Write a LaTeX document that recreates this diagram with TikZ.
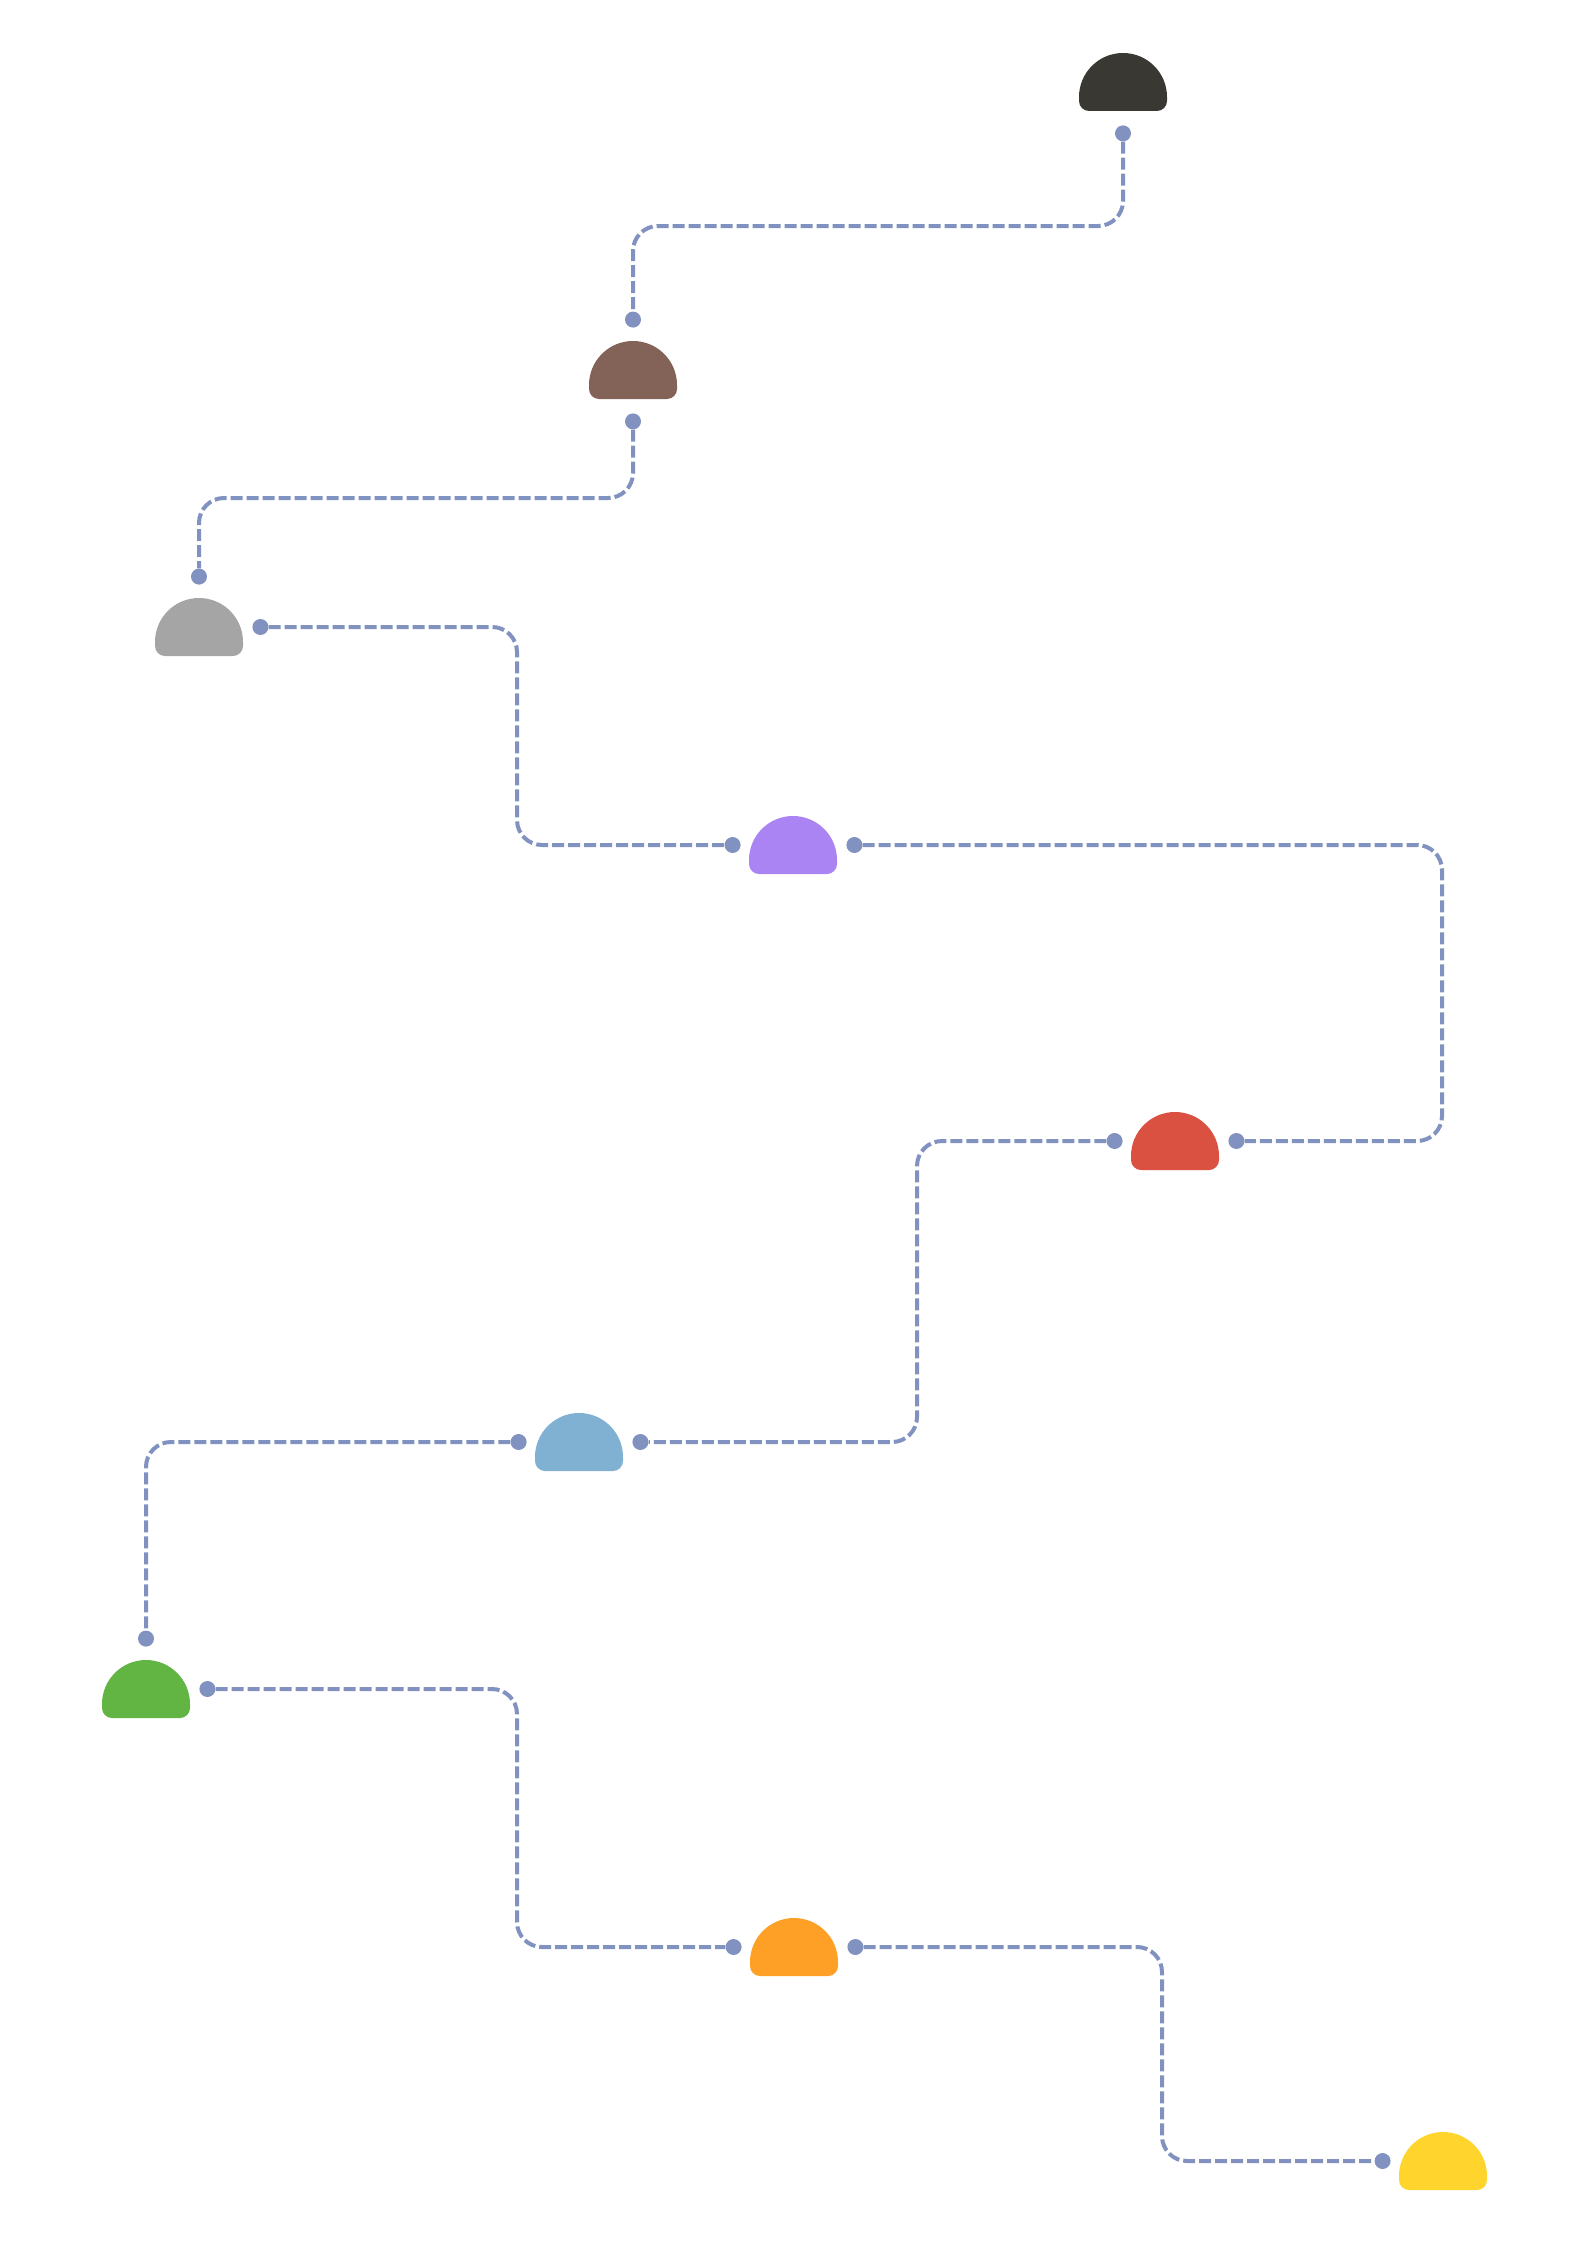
\documentclass[tikz,border=0pt]{standalone}
\usetikzlibrary{positioning}

\definecolor{linkblue}{RGB}{129,146,193}
\definecolor{domeblack}{RGB}{58,56,50}
\definecolor{domebrown}{RGB}{131,99,87}
\definecolor{domegray}{RGB}{165,165,165}
\definecolor{domepurple}{RGB}{169,132,242}
\definecolor{domered}{RGB}{218,81,66}
\definecolor{domeblue}{RGB}{128,176,210}
\definecolor{domegreen}{RGB}{99,181,67}
\definecolor{domeorange}{RGB}{255,160,38}
\definecolor{domeyellow}{RGB}{255,213,45}

\begin{document}
\begin{tikzpicture}[x=1pt,y=-1pt]

      \tikzstyle{dome}=[rectangle,inner sep=0pt,minimum width=88pt,minimum height=58pt,fill=white,
        path picture={\fill[#1] ([yshift=14pt]path picture bounding box.south west)
          arc[start angle=180,end angle=0,radius=44pt]
          -- ([yshift=10pt]path picture bounding box.south east)
          arc[start angle=0,end angle=-90,radius=10pt]
          -- ([xshift=10pt]path picture bounding box.south west)
          arc[start angle=270,end angle=180,radius=10pt] -- cycle;}]
      \tikzstyle{dot}=[circle,fill=linkblue,inner sep=0pt,minimum size=16pt]
      \tikzstyle{link}=[draw=linkblue,line width=4pt,dash pattern=on 12pt off 4pt,rounded corners=25pt]

    \useasboundingbox (0,0) rectangle (1587,2245);

        \node [dome=domeblack]  (k)  at (1123,82)   {}; %1
        \node [dome=domebrown]  (br) at (633,370)   {}; %2
        \node [dome=domegray]   (gy) at (199,627)   {}; %3
        \node [dome=domepurple] (p)  at (793,845)   {}; %4
        \node [dome=domered]    (r)  at (1175,1141) {}; %5
        \node [dome=domeblue]   (b)  at (579,1442)  {}; %6
        \node [dome=domegreen]  (gn) at (146,1689)  {}; %7
        \node [dome=domeorange] (o)  at (794,1947)  {}; %8
        \node [dome=domeyellow] (y)  at (1443,2161) {}; %9

        \node [dot] (kb)  [below=14pt of k]  {};
        \node [dot] (brt) [above=13pt of br] {};
        \node [dot] (brb) [below=14pt of br] {};
        \node [dot] (gyt) [above=13pt of gy] {};
        \node [dot] (gyr) [right=9pt of gy]  {};
        \node [dot] (pl)  [left=8pt of p]    {};
        \node [dot] (pr)  [right=9pt of p]   {};
        \node [dot] (rl)  [left=8pt of r]    {};
        \node [dot] (rr)  [right=9pt of r]   {};
        \node [dot] (bl)  [left=8pt of b]    {};
        \node [dot] (brr) [right=9pt of b]   {};
        \node [dot] (gnt) [above=13pt of gn] {};
        \node [dot] (gnr) [right=9pt of gn]  {};
        \node [dot] (ol)  [left=8pt of o]    {};
        \node [dot] (or)  [right=9pt of o]   {};
        \node [dot] (yl)  [left=8pt of y]    {};

        \draw [link] (kb) -- (kb |- 0,226) -- (brt |- 0,226) -- (brt);       %1-2
        \draw [link] (brb) -- (brb |- 0,498) -- (gyt |- 0,498) -- (gyt);     %2-3
        \draw [link] (gyr) -- (gyr -| 517,0) -- (pl -| 517,0) -- (pl);       %3-4
        \draw [link] (pr) -- (pr -| 1442,0) -- (rr -| 1442,0) -- (rr);       %4-5
        \draw [link] (rl) -- (rl -| 917,0) -- (brr -| 917,0) -- (brr);       %5-6
        \draw [link] (bl) -- (gnt |- bl) -- (gnt);                           %6-7
        \draw [link] (gnr) -- (gnr -| 517,0) -- (ol -| 517,0) -- (ol);       %7-8
        \draw [link] (or) -- (or -| 1162,0) -- (yl -| 1162,0) -- (yl);       %8-9

    \end{tikzpicture}
\end{document}
